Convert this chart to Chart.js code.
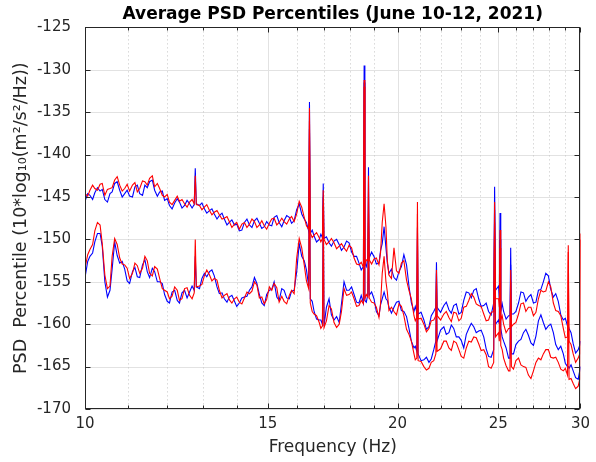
<!DOCTYPE html>
<html>
<head>
<meta charset="utf-8">
<script src="https://cdn.jsdelivr.net/npm/chart.js@4.4.1/dist/chart.umd.min.js"></script>
<style>
html,body{margin:0;padding:0;background:#fff;}
#wrap{width:596px;height:462px;position:relative;}
</style>
</head>
<body>
<div id="wrap"><canvas id="c" width="596" height="462"></canvas></div>
<script>
// ---- data ----
// main frequency samples (Hz), incl. narrow spectral lines
const freqHz = [
 10.00,10.11,10.22,10.34,10.45,10.57,10.68,10.80,10.92,11.04,
 11.17,11.29,11.42,11.54,11.67,11.80,11.93,12.06,12.20,12.33,
 12.47,12.61,12.74,12.77,12.80,12.89,13.03,13.18,13.32,13.47,
 13.62,13.77,13.93,14.08,14.24,14.40,14.56,14.72,14.88,15.05,
 15.21,15.38,15.55,15.73,15.90,16.08,16.26,16.42,16.45,16.48,
 16.62,16.81,16.93,16.96,16.99,17.18,17.37,17.57,17.76,17.96,
 18.16,18.36,18.54,18.57,18.60,18.72,18.75,18.78,18.98,19.19,
 19.33,19.41,19.49,19.62,19.84,20.06,20.28,20.51,20.74,20.87,
 20.90,20.93,21.20,21.44,21.67,21.77,21.80,21.83,22.16,22.41,
 22.65,22.91,23.16,23.42,23.68,23.94,24.21,24.47,24.75,24.80,
 24.85,25.02,25.06,25.10,25.14,25.30,25.58,25.66,25.70,25.74,
 25.86,26.15,26.44,26.73,27.03,27.33,27.63,27.94,28.25,28.56,
 28.88,29.15,29.20,29.25,29.52,29.85,29.95,30.00
];
const blueHigh = [
 -145.5,-144.8,-144.5,-144.3,-145.3,-144.6,-143.4,-144.2,-144.6,-144.9,
 -143.8,-144.6,-143.6,-143.2,-144.2,-144.4,-145.4,-146.0,-145.7,-145.6,
 -146.0,-145.8,-145.9,-141.6,-145.8,-146.0,-146.4,-146.6,-147.0,-147.2,
 -147.6,-148.0,-148.3,-149.0,-148.0,-148.3,-147.8,-148.1,-148.5,-148.3,
 -147.4,-148.0,-147.8,-147.4,-147.8,-145.8,-147.6,-149.0,-133.8,-149.3,
 -149.6,-150.0,-149.8,-143.4,-149.9,-150.4,-150.2,-150.6,-150.9,-150.4,
 -152.0,-152.8,-153.2,-129.5,-152.8,-152.3,-141.5,-152.2,-152.0,-152.8,
 -150.5,-148.5,-151.0,-154.0,-154.5,-153.8,-151.8,-155.5,-158.5,-158.6,
 -148.6,-158.8,-159.5,-160.3,-158.5,-158.0,-152.7,-158.0,-157.8,-158.3,
 -157.8,-158.8,-157.2,-156.3,-156.0,-157.0,-157.8,-158.5,-157.5,-143.8,
 -156.0,-155.5,-157.0,-146.9,-158.5,-158.5,-159.0,-159.0,-151.0,-158.8,
 -158.8,-157.5,-156.3,-156.8,-157.5,-156.0,-155.0,-154.3,-156.8,-157.3,
 -159.5,-160.2,-160.2,-160.5,-162.3,-163.0,-162.5,-162.0
];
const redHigh = [
 -144.6,-144.2,-144.0,-143.5,-144.8,-144.0,-143.0,-143.6,-144.0,-144.3,
 -143.3,-144.0,-143.2,-142.8,-143.8,-144.0,-145.0,-145.6,-145.4,-145.5,
 -145.8,-145.6,-145.8,-142.5,-145.9,-146.0,-146.2,-146.6,-146.8,-147.1,
 -147.5,-147.9,-148.2,-148.8,-148.0,-148.2,-147.9,-148.3,-148.4,-148.1,
 -147.5,-148.0,-147.9,-147.6,-147.9,-145.5,-147.4,-148.8,-134.5,-149.2,
 -149.5,-149.8,-149.9,-144.2,-150.0,-150.3,-150.4,-150.8,-151.0,-150.7,
 -152.2,-153.0,-153.3,-131.2,-153.0,-152.5,-142.5,-152.4,-152.3,-153.0,
 -148.0,-145.8,-148.5,-154.2,-151.0,-154.0,-152.5,-156.0,-159.0,-159.2,
 -145.6,-159.4,-160.0,-160.5,-159.5,-159.0,-153.6,-159.0,-158.8,-159.2,
 -158.6,-159.6,-158.0,-157.2,-156.8,-157.8,-158.8,-159.5,-158.5,-145.6,
 -157.0,-157.0,-158.0,-148.9,-159.5,-160.0,-160.5,-160.5,-153.6,-160.3,
 -160.0,-158.8,-157.5,-158.0,-159.0,-157.0,-156.2,-155.0,-157.5,-158.5,
 -160.5,-161.5,-150.7,-162.0,-163.5,-164.0,-163.5,-149.3
];
const blueLow = [
 -154.5,-152.0,-150.3,-149.3,-155.0,-156.0,-150.3,-152.8,-153.5,-155.2,
 -153.3,-154.5,-152.4,-154.5,-153.8,-155.0,-156.5,-157.5,-156.0,-157.5,
 -156.0,-156.2,-156.0,-152.0,-155.6,-155.8,-154.0,-153.8,-154.3,-156.4,
 -157.0,-156.8,-157.3,-157.5,-156.8,-156.0,-154.5,-156.5,-157.8,-156.0,
 -155.0,-157.2,-156.0,-157.0,-156.0,-150.5,-152.5,-155.5,-137.0,-157.0,
 -158.5,-159.5,-160.0,-145.0,-160.2,-157.0,-159.5,-159.8,-155.0,-156.0,
 -156.5,-157.5,-157.5,-131.5,-157.2,-156.5,-148.0,-156.6,-157.0,-159.0,
 -157.0,-156.2,-157.0,-158.0,-158.0,-157.3,-158.5,-160.5,-162.8,-163.2,
 -150.0,-163.5,-164.2,-164.5,-163.0,-162.0,-154.0,-162.0,-160.3,-161.0,
 -160.5,-161.5,-162.8,-160.5,-160.3,-160.8,-161.5,-163.8,-163.0,-146.5,
 -160.0,-159.5,-160.0,-150.0,-160.5,-162.0,-164.0,-164.0,-153.0,-163.5,
 -163.5,-162.0,-161.0,-161.3,-162.5,-159.6,-159.8,-160.2,-161.0,-163.0,
 -163.5,-165.0,-165.0,-165.2,-165.5,-166.5,-165.5,-165.0
];
const redLow = [
 -153.4,-151.2,-149.0,-148.3,-154.2,-155.5,-149.9,-152.2,-153.0,-154.6,
 -152.8,-154.0,-152.0,-154.0,-153.2,-154.6,-156.0,-157.0,-155.6,-157.2,
 -155.8,-156.6,-156.3,-150.0,-155.6,-155.5,-154.3,-154.2,-154.6,-156.0,
 -156.6,-157.1,-157.0,-157.4,-156.9,-156.4,-155.0,-156.9,-157.6,-155.6,
 -155.2,-157.4,-157.3,-156.6,-156.4,-149.9,-153.0,-155.8,-136.0,-157.5,
 -158.8,-159.8,-160.2,-146.0,-160.4,-157.8,-159.8,-160.0,-155.8,-156.5,
 -157.0,-157.8,-157.6,-132.0,-157.0,-156.8,-147.0,-156.9,-157.5,-159.2,
 -154.0,-152.0,-155.0,-158.4,-158.5,-157.6,-159.0,-161.2,-163.5,-164.0,
 -147.0,-164.3,-165.0,-165.2,-164.3,-163.5,-155.0,-163.2,-162.0,-162.8,
 -162.0,-163.0,-164.0,-162.0,-161.5,-162.3,-163.0,-165.0,-164.5,-148.0,
 -161.5,-161.0,-162.0,-151.0,-162.5,-164.0,-165.5,-165.5,-155.0,-165.0,
 -165.3,-164.0,-165.0,-166.0,-165.5,-164.0,-163.5,-163.0,-164.0,-164.5,
 -165.5,-166.0,-151.5,-166.5,-167.0,-167.3,-166.5,-150.0
];
// in-between frequency samples (Hz) carrying the fine ripple
const midFreqHz = [
 10.06,10.17,10.28,10.39,10.51,10.62,10.74,10.86,10.98,11.11,
 11.23,11.36,11.48,11.61,11.74,11.87,12.00,12.13,12.27,12.40,
 12.54,12.68,12.96,13.10,13.25,13.40,13.55,13.70,13.85,14.00,
 14.16,14.32,14.48,14.64,14.80,14.96,15.13,15.30,15.47,15.64,
 15.81,15.99,16.17,16.34,16.55,16.71,16.87,17.08,17.27,17.47,
 17.66,17.86,18.06,18.26,18.45,18.66,18.88,19.08,19.26,19.55,
 19.73,19.95,20.17,20.40,20.62,20.80,21.07,21.32,21.55,22.00,
 22.28,22.53,22.78,23.03,23.29,23.55,23.81,24.07,24.34,24.61,
 25.22,25.44,26.00,26.29,26.58,26.88,27.18,27.48,27.78,28.09,
 28.40,28.72,29.01,29.38,29.68
];
const blueHighMid = [
 -144.6,-145.3,-143.9,-144.1,-145.6,-144.4,-143.2,-145.0,-144.2,-145.0,
 -143.6,-144.8,-143.9,-143.0,-144.9,-144.3,-145.2,-146.4,-145.2,-146.3,
 -145.4,-146.3,-145.7,-146.9,-146.4,-147.6,-146.9,-148.3,-147.7,-148.2,
 -148.9,-147.6,-148.6,-147.5,-148.7,-147.9,-148.4,-147.2,-148.5,-147.2,
 -148.1,-146.5,-147.0,-148.0,-148.9,-150.3,-149.4,-149.7,-150.8,-150.0,
 -151.3,-150.2,-151.5,-152.0,-153.6,-153.2,-151.5,-152.9,-151.3,-152.8,
 -153.5,-154.8,-153.2,-153.0,-157.5,-157.9,-158.6,-160.6,-159.0,-158.6,
 -157.4,-158.7,-157.6,-158.6,-156.2,-156.9,-155.8,-157.9,-157.5,-158.9,
 -157.6,-159.4,-158.5,-156.2,-157.3,-156.5,-157.4,-155.9,-154.0,-155.9,
 -156.4,-158.9,-159.3,-161.0,-163.4
];
const redHighMid = [
 -144.9,-143.6,-144.2,-143.4,-144.1,-143.9,-142.6,-144.3,-143.5,-143.6,
 -144.4,-143.1,-143.6,-142.5,-143.4,-144.8,-144.7,-145.9,-144.9,-145.3,
 -146.2,-145.3,-146.5,-145.9,-147.1,-146.6,-147.6,-147.3,-148.6,-148.0,
 -148.2,-148.6,-147.6,-148.6,-147.8,-148.8,-147.6,-148.3,-147.5,-148.2,
 -147.3,-147.0,-146.2,-148.4,-149.8,-149.2,-150.3,-150.6,-149.9,-151.1,
 -150.5,-151.4,-151.0,-152.9,-152.7,-152.4,-152.9,-152.2,-151.5,-152.5,
 -154.6,-153.7,-152.8,-154.8,-157.0,-159.6,-159.3,-160.9,-159.6,-159.5,
 -158.5,-159.7,-158.7,-159.3,-157.9,-156.4,-157.6,-157.9,-159.6,-158.6,
 -159.0,-161.0,-159.8,-157.6,-158.5,-158.0,-158.6,-156.0,-156.1,-155.6,
 -158.4,-159.0,-161.6,-162.4,-164.5
];
const blueLowMid = [
 -152.6,-151.6,-149.3,-150.8,-156.8,-153.5,-151.9,-152.6,-154.9,-153.8,
 -154.4,-153.0,-153.8,-153.4,-155.0,-155.2,-157.3,-156.2,-157.2,-156.3,
 -156.9,-155.5,-154.6,-154.4,-153.6,-155.6,-156.3,-157.4,-156.6,-157.9,
 -156.9,-156.7,-155.6,-155.2,-157.5,-156.5,-155.9,-156.8,-155.8,-156.9,
 -156.1,-153.8,-152.0,-153.6,-157.3,-159.4,-159.5,-158.0,-158.9,-159.1,
 -157.6,-156.0,-155.6,-157.4,-156.6,-157.4,-156.2,-158.5,-157.7,-157.2,
 -158.7,-157.4,-158.4,-159.1,-162.0,-162.6,-164.3,-163.9,-164.1,-160.7,
 -161.2,-160.1,-161.5,-161.9,-161.2,-159.9,-161.0,-160.7,-162.9,-163.9,
 -161.5,-162.8,-162.4,-161.8,-160.6,-162.2,-161.4,-158.9,-160.6,-160.0,
 -162.4,-162.6,-164.6,-164.8,-166.3
];
const redLowMid = [
 -151.8,-150.6,-148.0,-150.5,-155.8,-152.0,-150.6,-152.9,-153.4,-154.0,
 -153.1,-153.4,-152.5,-154.3,-153.5,-155.8,-156.2,-156.7,-156.0,-157.0,
 -155.7,-157.0,-155.3,-153.6,-154.9,-154.8,-156.9,-156.4,-157.5,-156.8,
 -157.6,-156.2,-156.1,-155.4,-156.8,-157.1,-156.0,-155.7,-156.7,-157.6,
 -156.0,-152.2,-151.0,-154.9,-158.5,-159.0,-160.5,-159.6,-158.2,-160.4,
 -158.5,-156.6,-156.2,-157.9,-157.2,-156.5,-157.4,-158.0,-157.5,-156.2,
 -158.0,-158.9,-157.9,-160.6,-162.0,-164.2,-164.4,-165.4,-164.5,-162.9,
 -162.0,-163.1,-162.2,-163.8,-162.8,-162.1,-161.6,-163.1,-163.6,-165.2,
 -163.0,-164.9,-164.3,-164.8,-165.1,-166.4,-164.5,-164.2,-163.0,-163.9,
 -163.9,-165.3,-165.2,-166.4,-167.6
];
const xMajorTicks = [10, 15, 20, 25, 30];
const xMinorTicks = [11, 12, 13, 14, 16, 17, 18, 19, 21, 22, 23, 24, 26, 27, 28, 29];
const yTicks = [-170, -165, -160, -155, -150, -145, -140, -135, -130, -125];

const titleText = 'Average PSD Percentiles (June 10-12, 2021)';
const xTitle = 'Frequency (Hz)';
const yTitle = 'PSD  Percentile (10*log\u2081\u2080(m\u00B2/s\u00B2/Hz))';

// ---- chart ----
const series = (vals, midVals) =>
  freqHz.map((f, i) => ({ x: f, y: vals[i] }))
    .concat(midFreqHz.map((f, i) => ({ x: f, y: midVals[i] })))
    .sort((p, q) => p.x - q.x);
const FONT = 'DejaVu Sans';
const TXT = '#262626';

const matlabAxes = {
  id: 'matlabAxes',
  beforeDatasetsDraw(chart) {
    const { ctx, chartArea: a, scales: { x, y } } = chart;
    ctx.save();
    ctx.lineWidth = 1;
    ctx.strokeStyle = '#e2e2e2';
    yTicks.forEach(v => {
      const py = Math.round(y.getPixelForValue(v)) + 0.5;
      ctx.beginPath(); ctx.moveTo(a.left, py); ctx.lineTo(a.right, py); ctx.stroke();
    });
    xMajorTicks.forEach(v => {
      const px = Math.round(x.getPixelForValue(v)) + 0.5;
      ctx.beginPath(); ctx.moveTo(px, a.top); ctx.lineTo(px, a.bottom); ctx.stroke();
    });
    ctx.strokeStyle = '#c4c4c4';
    ctx.setLineDash([1, 3]);
    xMinorTicks.forEach(v => {
      const px = Math.round(x.getPixelForValue(v)) + 0.5;
      ctx.beginPath(); ctx.moveTo(px, a.top); ctx.lineTo(px, a.bottom); ctx.stroke();
    });
    ctx.restore();
  },
  afterDraw(chart) {
    const { ctx, chartArea: a, scales: { x, y } } = chart;
    ctx.save();
    ctx.strokeStyle = '#262626';
    ctx.lineWidth = 1;
    const L = Math.round(a.left) + 0.5, R = Math.round(a.right) - 0.5;
    const T = Math.round(a.top) + 0.5, B = Math.round(a.bottom) - 0.5;
    ctx.strokeRect(L, T, R - L, B - T);
    ctx.beginPath();
    yTicks.forEach(v => {
      const py = Math.round(y.getPixelForValue(v)) + 0.5;
      ctx.moveTo(L, py); ctx.lineTo(L + 5, py);
      ctx.moveTo(R, py); ctx.lineTo(R - 5, py);
    });
    xMajorTicks.forEach(v => {
      const px = Math.round(x.getPixelForValue(v)) + 0.5;
      ctx.moveTo(px, B); ctx.lineTo(px, B - 5);
      ctx.moveTo(px, T); ctx.lineTo(px, T + 5);
    });
    xMinorTicks.forEach(v => {
      const px = Math.round(x.getPixelForValue(v)) + 0.5;
      ctx.moveTo(px, B); ctx.lineTo(px, B - 3);
      ctx.moveTo(px, T); ctx.lineTo(px, T + 3);
    });
    ctx.stroke();
    ctx.restore();
  }
};

const ds = (label, data, color) => ({
  label, data, borderColor: color, backgroundColor: color,
  borderWidth: 1.1, pointRadius: 0, tension: 0, fill: false
});

new Chart(document.getElementById('c'), {
  type: 'line',
  data: {
    datasets: [
      ds('Red upper', series(redHigh, redHighMid), '#ff0000'),
      ds('Red lower', series(redLow, redLowMid), '#ff0000'),
      ds('Blue upper', series(blueHigh, blueHighMid), '#0000ff'),
      ds('Blue lower', series(blueLow, blueLowMid), '#0000ff')
    ]
  },
  options: {
    responsive: false,
    animation: false,
    devicePixelRatio: 1,
    layout: { padding: { left: 0, right: 12, top: 0, bottom: 0 } },
    plugins: {
      legend: { display: false },
      tooltip: { enabled: false },
      title: {
        display: true, text: titleText, fullSize: false, color: '#000',
        font: { family: FONT, size: 17, weight: 'bold' },
        padding: { top: 4, bottom: 3 }
      }
    },
    scales: {
      x: {
        type: 'logarithmic', min: 10, max: 30,
        grid: { display: false, drawTicks: false },
        border: { display: false },
        afterBuildTicks: (s) => { s.ticks = xMajorTicks.map(v => ({ value: v })); },
        afterFit: (s) => { s.height = 53; },
        ticks: {
          autoSkip: false, maxRotation: 0, color: TXT, padding: 6,
          font: { family: FONT, size: 15 },
          callback: (v) => String(v)
        },
        title: {
          display: true, text: xTitle, color: TXT,
          font: { family: FONT, size: 17 }, padding: { top: 0, bottom: 4 }
        }
      },
      y: {
        min: -170, max: -125,
        grid: { display: false, drawTicks: false },
        border: { display: false },
        afterBuildTicks: (s) => { s.ticks = yTicks.map(v => ({ value: v })); },
        afterFit: (s) => { s.width = 85; },
        ticks: {
          color: TXT, padding: 14,
          font: { family: FONT, size: 15 },
          callback: (v) => String(v)
        },
        title: {
          display: true, text: yTitle, color: TXT,
          font: { family: FONT, size: 17.5 }, padding: { top: 11, bottom: 0 }
        }
      }
    }
  },
  plugins: [matlabAxes]
});
</script>
</body>
</html>
